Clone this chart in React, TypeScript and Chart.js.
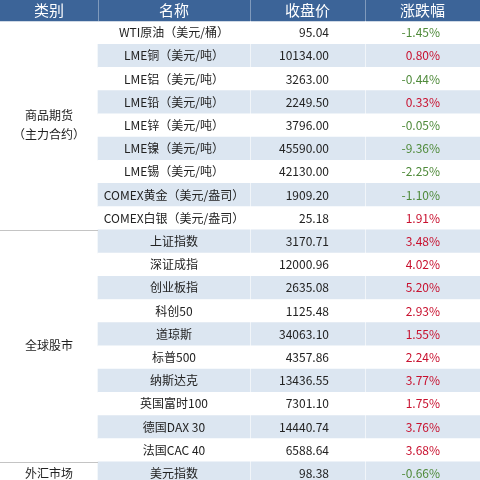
import { useEffect, useRef } from "react";
import { Chart, registerables } from "chart.js";

Chart.register(...registerables);

const headers = ["类别", "名称", "收盘价", "涨跌幅"];
const categories = ["商品期货\n（主力合约）", "全球股市", "外汇市场"];
const categoryRowCounts = [9, 10, 1];
const names = [
  "WTI原油（美元/桶）",
  "LME铜（美元/吨）",
  "LME铝（美元/吨）",
  "LME铅（美元/吨）",
  "LME锌（美元/吨）",
  "LME镍（美元/吨）",
  "LME锡（美元/吨）",
  "COMEX黄金（美元/盎司）",
  "COMEX白银（美元/盎司）",
  "上证指数",
  "深证成指",
  "创业板指",
  "科创50",
  "道琼斯",
  "标普500",
  "纳斯达克",
  "英国富时100",
  "德国DAX 30",
  "法国CAC 40",
  "美元指数",
];
const closes = [
  95.04, 10134.0, 3263.0, 2249.5, 3796.0, 45590.0, 42130.0, 1909.2, 25.18,
  3170.71, 12000.96, 2635.08, 1125.48, 34063.1, 4357.86, 13436.55, 7301.1,
  14440.74, 6588.64, 98.38,
];
const changes = [
  -1.45, 0.8, -0.44, 0.33, -0.05, -9.36, -2.25, -1.1, 1.91, 3.48, 4.02, 5.2,
  2.93, 1.55, 2.24, 3.77, 1.75, 3.76, 3.68, -0.66,
];

// layout (not data)
const W = 480;
const H = 480;
const colEdges = [0, 98, 250, 365, 480];
const priceRight = 329;
const changeRight = 440;
const headerColor = "#3c6498";
const stripeColor = "#dce6f1";
const FONT = '"Noto Sans CJK SC", "Noto Sans", sans-serif';

export default function App() {
  const ref = useRef<HTMLCanvasElement | null>(null);

  useEffect(() => {
    document.body.style.margin = "0";
    const canvas = ref.current;
    if (!canvas) return;

    const rowIdx = names.map((_, i) => i + 1);

    const tablePlugin = {
      id: "tableText",
      afterDatasetsDraw(chart: any) {
        const ctx = chart.ctx as CanvasRenderingContext2D;
        const xs = chart.scales.x;
        const ys = chart.scales.y;
        const top = chart.chartArea.top;
        const headerBottom = ys.getPixelForValue(0.5);
        const bodyBottom = chart.chartArea.bottom;
        ctx.save();

        // header separators
        ctx.strokeStyle = "rgba(255,255,255,0.35)";
        ctx.lineWidth = 1;
        for (let c = 1; c < colEdges.length - 1; c++) {
          const px = Math.round(xs.getPixelForValue(colEdges[c])) + 0.5;
          ctx.beginPath();
          ctx.moveTo(px, top);
          ctx.lineTo(px, headerBottom);
          ctx.stroke();
        }
        // body white separators
        ctx.strokeStyle = "rgba(255,255,255,0.6)";
        for (let c = 2; c < colEdges.length - 1; c++) {
          const px = Math.round(xs.getPixelForValue(colEdges[c])) + 0.5;
          ctx.beginPath();
          ctx.moveTo(px, headerBottom);
          ctx.lineTo(px, bodyBottom);
          ctx.stroke();
        }

        // header text
        ctx.fillStyle = "#ffffff";
        ctx.font = `15px ${FONT}`;
        ctx.textAlign = "center";
        ctx.textBaseline = "middle";
        const hy = (top + headerBottom) / 2;
        headers.forEach((h, c) => {
          const cx = xs.getPixelForValue((colEdges[c] + colEdges[c + 1]) / 2);
          ctx.fillText(h, cx, hy);
        });

        // rows
        ctx.font = `12px ${FONT}`;
        names.forEach((n, i) => {
          const y = ys.getPixelForValue(i + 1);
          ctx.fillStyle = "#222222";
          ctx.textAlign = "center";
          ctx.fillText(n, xs.getPixelForValue((colEdges[1] + colEdges[2]) / 2), y);
          ctx.textAlign = "right";
          ctx.fillText(closes[i].toFixed(2), xs.getPixelForValue(priceRight), y);
          const ch = changes[i];
          ctx.fillStyle = ch < 0 ? "#4f8a3a" : "#c8102e";
          ctx.fillText(ch.toFixed(2) + "%", xs.getPixelForValue(changeRight), y);
        });

        // categories
        let start = 1;
        categories.forEach((cat, g) => {
          const end = start + categoryRowCounts[g] - 1;
          const y0 = ys.getPixelForValue(start - 0.5);
          const y1 = ys.getPixelForValue(end + 0.5);
          const cy = (y0 + y1) / 2;
          const lines = cat.split("\n");
          const lh = 19;
          ctx.fillStyle = "#222222";
          ctx.textAlign = "center";
          ctx.font = `12px ${FONT}`;
          const cx = xs.getPixelForValue((colEdges[0] + colEdges[1]) / 2);
          lines.forEach((ln, k) => {
            ctx.fillText(ln, cx, cy + (k - (lines.length - 1) / 2) * lh);
          });
          if (g < categories.length - 1 || y1 < bodyBottom) {
            ctx.strokeStyle = "#c4c4c4";
            ctx.lineWidth = 1;
            const py = Math.round(y1) + 0.5;
            ctx.beginPath();
            ctx.moveTo(xs.getPixelForValue(colEdges[0]), py);
            ctx.lineTo(xs.getPixelForValue(colEdges[1]), py);
            ctx.stroke();
          }
          start = end + 1;
        });

        ctx.restore();
      },
    };

    const chart = new Chart(canvas, {
      type: "bar",
      data: {
        datasets: [
          {
            label: "header",
            data: [{ x: [colEdges[0], colEdges[4]], y: 0 }] as any,
            backgroundColor: headerColor,
            grouped: false,
            barPercentage: 1,
            categoryPercentage: 1,
            borderWidth: 0,
          } as any,
          {
            label: "rows",
            data: rowIdx.map((r) => ({ x: [colEdges[1], colEdges[4]], y: r })) as any,
            backgroundColor: rowIdx.map((r) => (r % 2 === 0 ? stripeColor : "#ffffff")),
            grouped: false,
            barPercentage: 1,
            categoryPercentage: 1,
            borderWidth: 0,
          } as any,
        ],
      },
      options: {
        indexAxis: "y",
        animation: false,
        responsive: false,
        maintainAspectRatio: false,
        layout: { padding: 0 },
        plugins: {
          legend: { display: false },
          tooltip: { enabled: false },
        },
        scales: {
          x: { type: "linear", min: 0, max: W, display: false, offset: false },
          y: {
            type: "linear",
            min: -0.405,
            max: 20.28,
            reverse: true,
            display: false,
            offset: false,
          },
        },
      },
      plugins: [tablePlugin],
    });

    return () => chart.destroy();
  }, []);

  return (
    <div style={{ width: W, height: H, background: "#ffffff" }}>
      <canvas ref={ref} width={W} height={H} style={{ width: W, height: H, display: "block" }} />
    </div>
  );
}
